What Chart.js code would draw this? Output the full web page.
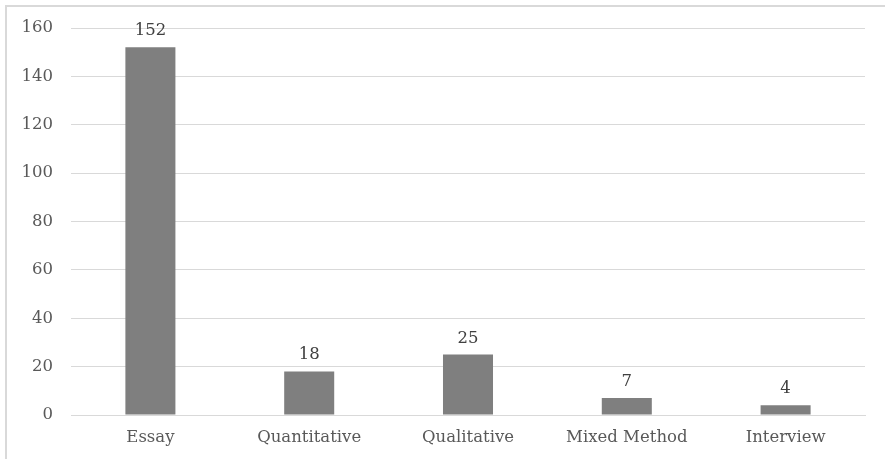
<!DOCTYPE html>
<html>
<head>
<meta charset="utf-8">
<script src="https://cdn.jsdelivr.net/npm/chart.js@4/dist/chart.umd.min.js"></script>
<style>
  html, body { margin: 0; padding: 0; background: #fff; overflow: hidden; }
  #frame { position: absolute; left: 5px; top: 5px; width: 900px; height: 480px;
           border-top: 2px solid #d9d9d9; border-left: 2px solid #d9d9d9; }
  #wrap { position: absolute; left: 0; top: 0; width: 885px; height: 459px; }
</style>
</head>
<body>
<div id="frame"></div>
<div id="wrap"><canvas id="c" width="885" height="459"></canvas></div>
<script>
const categories = ['Essay', 'Quantitative', 'Qualitative', 'Mixed Method', 'Interview'];
const counts = [152, 18, 25, 7, 4];
const yTicks = [0, 20, 40, 60, 80, 100, 120, 140, 160];

const FONT = "'DejaVu Serif', serif";
const TEXT = '#595959';

// Draws each bar's value just above it
const valueLabels = {
  id: 'valueLabels',
  afterDatasetsDraw(chart) {
    const ctx = chart.ctx;
    const meta = chart.getDatasetMeta(0);
    ctx.save();
    ctx.font = '16.5px ' + FONT;
    ctx.fillStyle = '#404040';
    ctx.textAlign = 'center';
    ctx.textBaseline = 'bottom';
    meta.data.forEach((bar, i) => {
      ctx.fillText(String(counts[i]), bar.x, bar.y - 8);
    });
    ctx.restore();
  }
};

new Chart(document.getElementById('c'), {
  type: 'bar',
  data: {
    labels: categories,
    datasets: [{
      data: counts,
      backgroundColor: '#7f7f7f',
      borderWidth: 0,
      categoryPercentage: 1,
      barPercentage: 0.315
    }]
  },
  options: {
    responsive: false,
    animation: false,
    layout: { padding: { left: 0, right: 20, top: 28, bottom: 0 } },
    plugins: { legend: { display: false }, tooltip: { enabled: false } },
    scales: {
      x: {
        grid: { display: false, drawTicks: false },
        border: { display: true, color: '#d9d9d9', width: 1 },
        ticks: { color: TEXT, font: { family: FONT, size: 16.5 }, padding: 13 },
        afterFit(scale) { scale.height = 44; }
      },
      y: {
        min: 0,
        max: 160,
        afterBuildTicks(scale) { scale.ticks = yTicks.map(v => ({ value: v })); },
        grid: { color: '#d9d9d9', drawTicks: false, lineWidth: 1 },
        border: { display: false },
        ticks: { color: TEXT, font: { family: FONT, size: 16.5 }, padding: 18 },
        afterFit(scale) { scale.width = 71; }
      }
    }
  },
  plugins: [valueLabels]
});
</script>
</body>
</html>
